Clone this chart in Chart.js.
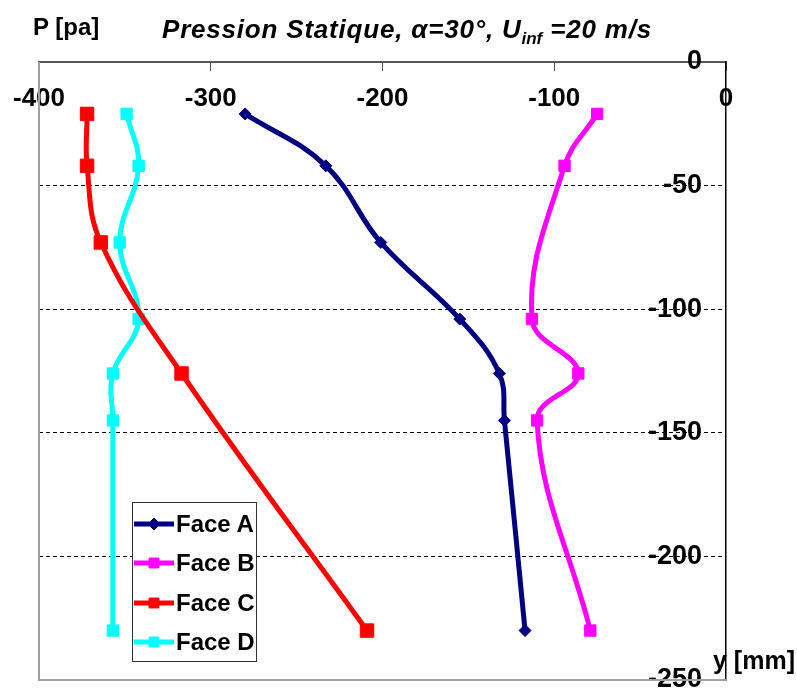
<!DOCTYPE html>
<html>
<head>
<meta charset="utf-8">
<script src="https://cdn.jsdelivr.net/npm/chart.js@4.4.0/dist/chart.umd.min.js"></script>
<style>
  body { margin: 0; background: #fff; font-family: "Liberation Sans", Arial, sans-serif; }
  #wrap { position: relative; width: 797px; height: 691px; }
  #chart { position: absolute; left: 0; top: 0; }
  .lbl { position: absolute; font-weight: bold; color: #000; white-space: nowrap; }
  #title { left: 162px; top: 13px; font-size: 26px; font-style: italic; line-height: 32px; letter-spacing: 0.8px; }
  #title sub { font-size: 17px; vertical-align: -6px; line-height: 0; letter-spacing: 0; }
  #pLabel { left: 33px; top: 12px; font-size: 24px; line-height: 30px; }
  #yLabel { left: 713px; top: 645px; font-size: 25px; line-height: 30px; }
  #legend { position: absolute; left: 132px; top: 502px; width: 125px; height: 160px;
            box-sizing: border-box; border: 1px solid #333; background: #fff; padding-top: 1px; }
  .item { height: 39.5px; display: flex; align-items: center; }
  .item canvas { margin-left: 1px; }
  .item span { margin-left: 2px; font-weight: bold; font-size: 24px; line-height: 28px; }
</style>
</head>
<body>
<div id="wrap">
  <canvas id="chart" width="797" height="691"></canvas>
  <div class="lbl" id="title">Pression Statique, α=30°, U<sub>inf</sub> =20 m/s</div>
  <div class="lbl" id="pLabel">P [pa]</div>
  <div class="lbl" id="yLabel">y [mm]</div>
  <div id="legend"></div>
</div>
<script>
// ── Data ───────────────────────────────────────────────────────
const yPos  = [-21, -42, -73, -104, -126, -145, -230];   // y [mm]
const faceA = [-280, -233, -201, -155, -132, -129, -117]; // P [pa]
const faceB = [-75, -94, null, -113, -86, -110, -79];
const faceC = [-372, -372, -364, null, -317, null, -209];
const faceD = [-349, -342, -353, -342, -357, -357, -357];

const xMin = -400, xMax = 0, xStep = 100;
const yMin = -250, yMax = 0, yStep = 50;

const FONT = "'Liberation Sans', Arial, sans-serif";

function points(values) {
  return values
    .map((p, i) => (p === null ? null : { x: p, y: yPos[i] }))
    .filter(Boolean);
}

function series(label, values, color, style, radius) {
  return {
    label,
    data: points(values),
    showLine: true,
    borderColor: color,
    backgroundColor: color,
    borderWidth: 5,
    tension: 0.4,
    pointStyle: style,
    pointRadius: radius,
    pointBorderWidth: 1,
    pointBorderColor: color,
    pointBackgroundColor: color,
  };
}

// light frame on the left and bottom edges of the plot
const frame = {
  id: "frame",
  beforeDatasetsDraw(chart) {
    const { ctx, chartArea: a } = chart;
    ctx.save();
    ctx.strokeStyle = "#a0a0a0";
    ctx.lineWidth = 2;
    ctx.beginPath();
    ctx.moveTo(a.left, a.top);
    ctx.lineTo(a.left, a.bottom);
    ctx.lineTo(a.right, a.bottom);
    ctx.stroke();
    ctx.restore();
  },
};

const chart = new Chart(document.getElementById("chart").getContext("2d"), {
  type: "scatter",
  data: {
    datasets: [
      series("Face A", faceA, "#000080", "rectRot", 6),
      series("Face B", faceB, "#ff00ff", "rect", 8),
      series("Face C", faceC, "#ff0000", "rect", 9.5),
      series("Face D", faceD, "#00ffff", "rect", 8),
    ],
  },
  options: {
    responsive: false,
    animation: false,
    layout: { padding: { left: 39, right: 71, top: 62, bottom: 11 } },
    plugins: { legend: { display: false }, tooltip: { enabled: false } },
    scales: {
      x: {
        type: "linear",
        position: "top",
        min: xMin,
        max: xMax,
        ticks: { stepSize: xStep, mirror: true, padding: 21, color: "#000",
                 font: { family: FONT, size: 26, weight: "bold" } },
        grid: { drawOnChartArea: false, drawTicks: true, tickLength: -9, color: "#555" },
        border: { color: "#555", width: 2 },
        afterFit(s) { s.height = 0; s.paddingLeft = 0; s.paddingRight = 0; },
      },
      y: {
        type: "linear",
        position: "right",
        min: yMin,
        max: yMax,
        ticks: { stepSize: yStep, mirror: true, padding: -24, color: "#000",
                 font: { family: FONT, size: 27, weight: "bold" } },
        grid: {
          drawTicks: false,
          color: c => (c.tick && (c.tick.value === yMin || c.tick.value === yMax) ? "rgba(0,0,0,0)" : "#000"),
          lineWidth: 1,
        },
        border: { color: "#000", width: 1.5, dash: [4, 3] },
        afterFit(s) { s.width = 0; s.paddingTop = 0; s.paddingBottom = 0; },
      },
    },
  },
  plugins: [frame],
});

// ── Legend built from the datasets ─────────────────────────────
const legend = document.getElementById("legend");
chart.data.datasets.forEach(ds => {
  const row = document.createElement("div");
  row.className = "item";
  const c = document.createElement("canvas");
  c.width = 40; c.height = 30;
  const g = c.getContext("2d");
  g.strokeStyle = ds.borderColor;
  g.fillStyle = ds.backgroundColor;
  g.lineWidth = ds.borderWidth;
  g.beginPath(); g.moveTo(0, 15); g.lineTo(40, 15); g.stroke();
  g.lineWidth = 1;
  Chart.helpers.drawPoint(g, { pointStyle: ds.pointStyle, radius: Math.min(ds.pointRadius, 7), rotation: 0, borderWidth: 1 }, 20, 15);
  const t = document.createElement("span");
  t.textContent = ds.label;
  row.appendChild(c);
  row.appendChild(t);
  legend.appendChild(row);
});
</script>
</body>
</html>
